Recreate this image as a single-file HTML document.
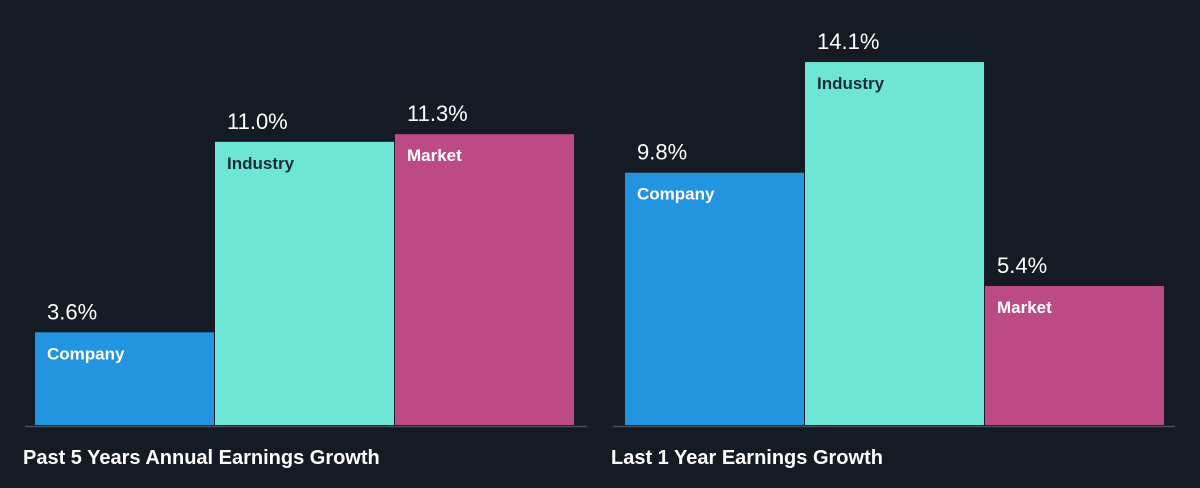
<!DOCTYPE html>
<html><head><meta charset="utf-8"><style>
html,body{margin:0;padding:0;background:#151b24;}
svg{display:block;font-family:"Liberation Sans",sans-serif;}
</style></head><body>
<svg id="chart" width="1200" height="488" viewBox="0 0 1200 488">
<rect x="0" y="0" width="1200" height="488" fill="#151b24"/>
</svg>
<script>
const groupTitles = ["Past 5 Years Annual Earnings Growth", "Last 1 Year Earnings Growth"];
const categories = ["Company", "Industry", "Market"];
const pastFiveYears = [3.6, 11.0, 11.3];
const lastOneYear = [9.8, 14.1, 5.4];
const colors = ["#2394df", "#6ee6d5", "#bc4a85"];
const labelColors = ["#ffffff", "#1c2a33", "#ffffff"];

const svg = document.getElementById('chart');
const NS = 'http://www.w3.org/2000/svg';
const baseline = 425;
const pxPerUnit = 25.74;
const yScale = v => baseline - v * pxPerUnit;
const groups = [
  {x0: 35, axisX0: 25, axisX1: 587, values: pastFiveYears, title: groupTitles[0]},
  {x0: 625, axisX0: 613, axisX1: 1175, values: lastOneYear, title: groupTitles[1]}
];
const barW = 180;

function mk(tag, attrs){const e=document.createElementNS(NS,tag);for(const k in attrs)e.setAttribute(k,attrs[k]);svg.appendChild(e);return e;}

groups.forEach((g, gi) => {
  g.values.forEach((v, i) => {
    const x = g.x0 + i * barW;
    const top = yScale(v);
    const r = mk('rect', {x: x, y: top, width: barW - 1, height: baseline - top, fill: colors[i]});
    
    
    const vt = mk('text', {x: x + 12, y: top - 13, fill: '#ffffff', 'font-size': 22});
    vt.textContent = v.toFixed(1) + '%';
    
    
    const ct = mk('text', {x: x + 12, y: top + 27, fill: labelColors[i], 'font-size': 17, 'font-weight': 'bold'});
    ct.textContent = categories[i];
    
    
  });
  const ax = mk('line', {x1: g.axisX0, x2: g.axisX1, y1: baseline + 1.5, y2: baseline + 1.5, stroke: '#4a5058', 'stroke-width': 1.5});
  
  
  const t = mk('text', {x: g.axisX0 - 2, y: 464, fill: '#ffffff', 'font-size': 20, 'font-weight': 'bold'});
  t.textContent = g.title;
  
  
});
</script>
</body></html>
